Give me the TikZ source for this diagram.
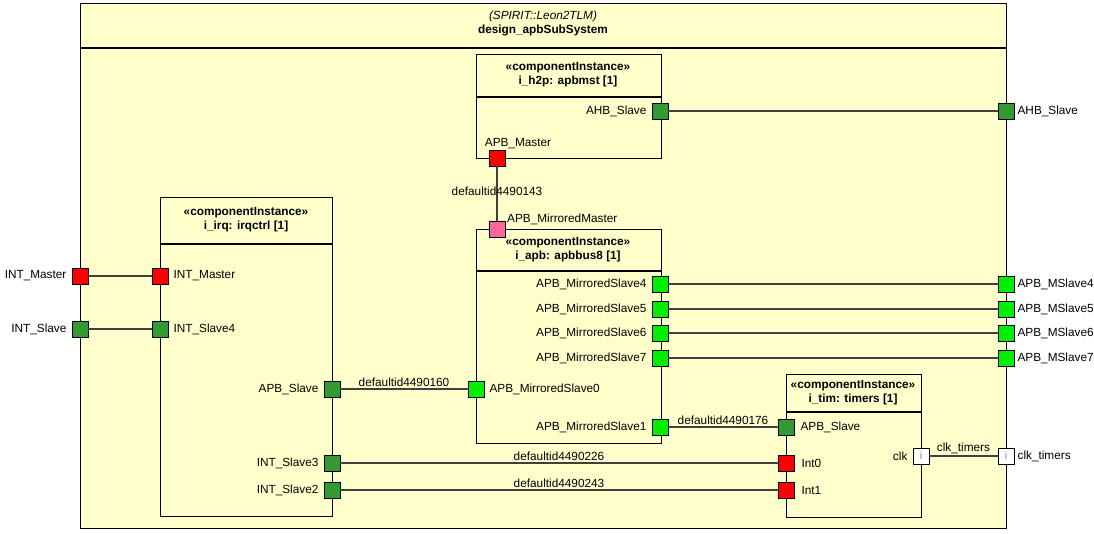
\documentclass[tikz,border=0pt]{standalone}
\usepackage{fontspec}
\setmainfont{Liberation Sans}
\usetikzlibrary{positioning}
\definecolor{paper}{HTML}{FFFFCC}
\definecolor{portred}{HTML}{FF0000}
\definecolor{portdark}{HTML}{339933}
\definecolor{portlight}{HTML}{00EE00}
\definecolor{portpink}{HTML}{FF6699}
\newcommand\portfont{\fontsize{11.8}{14}\selectfont}
\tikzset{
  frame/.style  ={rectangle, draw=black, fill=paper, line width=1.4pt, inner sep=0pt},
  part/.style   ={rectangle, draw=black, line width=1.1pt, inner sep=0pt},
  sep/.style    ={draw=black, line width=1.1pt},
  port/.style   ={rectangle, draw=black, line width=0.8pt, minimum size=16pt,
                  inner sep=0pt, font=\fontsize{11}{11}\selectfont, text=black!45},
  redport/.style  ={port, fill=portred},
  darkport/.style ={port, fill=portdark},
  lightport/.style={port, fill=portlight},
  pinkport/.style ={port, fill=portpink},
  whiteport/.style={port, fill=white},
  wire/.style   ={draw=black!75, line width=1.1pt},
  plbl/.style   ={font=\portfont, inner sep=1pt},
  wlbl/.style   ={font=\portfont, above, inner sep=2pt},
  ttl/.style    ={font=\portfont\bfseries, align=center}
}
\begin{document}
\begin{tikzpicture}[x=1pt,y=-1pt]
\useasboundingbox (0,0) rectangle (1094,534);

%% ---- design frame --------------------------------------------------
\node[frame, anchor=north west, minimum width=926pt, minimum height=525pt]
      (design) at (80,3) {};
\draw[sep] (design.west |- 0,48) -- (design.east |- 0,48);
\node[font=\portfont\itshape] (designkind) at (543,16) {(SPIRIT::Leon2TLM)};
\node[font=\portfont\bfseries] (designname) at (543,30) {design\_apbSubSystem};

%% ---- component instances -------------------------------------------
\node[part, anchor=north west, minimum width=185pt, minimum height=104pt]
      (h2p) at (476,54) {};
\draw[sep] (h2p.west |- 0,97) -- (h2p.east |- 0,97);
\node[ttl] (h2pttl) at (568,75) {«componentInstance»\\i\_h2p: apbmst [1]};

\node[part, anchor=north west, minimum width=172pt, minimum height=319pt]
      (irq) at (160,197) {};
\draw[sep] (irq.west |- 0,244) -- (irq.east |- 0,244);
\node[ttl] (irqttl) at (246,220) {«componentInstance»\\i\_irq: irqctrl [1]};

\node[part, anchor=north west, minimum width=185pt, minimum height=214pt]
      (apb) at (476,229) {};
\draw[sep] (apb.west |- 0,271) -- (apb.east |- 0,271);
\node[ttl] (apbttl) at (568,250) {«componentInstance»\\i\_apb: apbbus8 [1]};

\node[part, anchor=north west, minimum width=135pt, minimum height=143pt]
      (tim) at (786,374) {};
\draw[sep] (tim.west |- 0,412) -- (tim.east |- 0,412);
\node[ttl] (timttl) at (853,393) {«componentInstance»\\i\_tim: timers [1]};

%% ---- ports on the design frame -------------------------------------
\node[redport]   (xintm)  at (80,276) {};
\node[darkport]  (xints)  at (80,329) {};
\node[darkport]  (xahbs)  at (1006,111) {};
\node[lightport] (xms4)   at (1006,284) {};
\node[lightport] (xms5)   at (1006,309) {};
\node[lightport] (xms6)   at (1006,333) {};
\node[lightport] (xms7)   at (1006,358) {};
\node[whiteport] (xclk)   at (1006,456) {i};
\node[plbl, left=4pt of xintm]  {INT\_Master};
\node[plbl, left=4pt of xints]  {INT\_Slave};
\node[plbl, right=2pt of xahbs] {AHB\_Slave};
\node[plbl, right=2pt of xms4]  {APB\_MSlave4};
\node[plbl, right=2pt of xms5]  {APB\_MSlave5};
\node[plbl, right=2pt of xms6]  {APB\_MSlave6};
\node[plbl, right=2pt of xms7]  {APB\_MSlave7};
\node[plbl, right=2pt of xclk]  {clk\_timers};

%% ---- ports of i_h2p -------------------------------------------------
\node[darkport] (h2pahb) at (660,111) {};
\node[redport]  (h2papb) at (497,158) {};
\node[plbl, left=4pt of h2pahb] {AHB\_Slave};
\node[plbl] at (518,144) {APB\_Master};

%% ---- ports of i_irq -------------------------------------------------
\node[redport]  (irqintm) at (160,276) {};
\node[darkport] (irqs4)   at (160,329) {};
\node[darkport] (irqapb)  at (332,389) {};
\node[darkport] (irqs3)   at (332,463) {};
\node[darkport] (irqs2)   at (332,490) {};
\node[plbl, right=4pt of irqintm] {INT\_Master};
\node[plbl, right=4pt of irqs4]   {INT\_Slave4};
\node[plbl, left=4pt of irqapb]   {APB\_Slave};
\node[plbl, left=4pt of irqs3]    {INT\_Slave3};
\node[plbl, left=4pt of irqs2]    {INT\_Slave2};

%% ---- ports of i_apb -------------------------------------------------
\node[pinkport]  (apbmm) at (497,229) {};
\node[lightport] (apbs4) at (660,284) {};
\node[lightport] (apbs5) at (660,309) {};
\node[lightport] (apbs6) at (660,333) {};
\node[lightport] (apbs7) at (660,358) {};
\node[lightport] (apbs0) at (476,389) {};
\node[lightport] (apbs1) at (660,427) {};
\node[plbl, anchor=west] at (506,219) {APB\_MirroredMaster};
\node[plbl, left=4pt of apbs4]  {APB\_MirroredSlave4};
\node[plbl, left=4pt of apbs5]  {APB\_MirroredSlave5};
\node[plbl, left=4pt of apbs6]  {APB\_MirroredSlave6};
\node[plbl, left=4pt of apbs7]  {APB\_MirroredSlave7};
\node[plbl, right=4pt of apbs0] {APB\_MirroredSlave0};
\node[plbl, left=4pt of apbs1]  {APB\_MirroredSlave1};

%% ---- ports of i_tim -------------------------------------------------
\node[darkport]  (timapb) at (786,427) {};
\node[redport]   (timi0)  at (786,463) {};
\node[redport]   (timi1)  at (786,490) {};
\node[whiteport] (timclk) at (921,456) {i};
\node[plbl, right=5pt of timapb] {APB\_Slave};
\node[plbl, right=6pt of timi0]  {Int0};
\node[plbl, right=6pt of timi1]  {Int1};
\node[plbl, left=4pt of timclk]  {clk};

%% ---- wiring ---------------------------------------------------------
\draw[wire] (xintm) -- (irqintm);
\draw[wire] (xints) -- (irqs4);
\draw[wire] (h2pahb) -- (xahbs);
\draw[wire] (apbs4) -- (xms4);
\draw[wire] (apbs5) -- (xms5);
\draw[wire] (apbs6) -- (xms6);
\draw[wire] (apbs7) -- (xms7);
\draw[wire] (h2papb) -- node[font=\portfont, pos=0.45, inner sep=0pt] {defaultid4490143} (apbmm);
\draw[wire] (irqapb) -- node[wlbl] {defaultid4490160} (apbs0);
\draw[wire] (apbs1) -- node[wlbl] {defaultid4490176} (timapb);
\draw[wire] (irqs3) -- node[wlbl] {defaultid4490226} (timi0);
\draw[wire] (irqs2) -- node[wlbl] {defaultid4490243} (timi1);
\draw[wire] (timclk) -- node[wlbl] {clk\_timers} (xclk);
\end{tikzpicture}
\end{document}
